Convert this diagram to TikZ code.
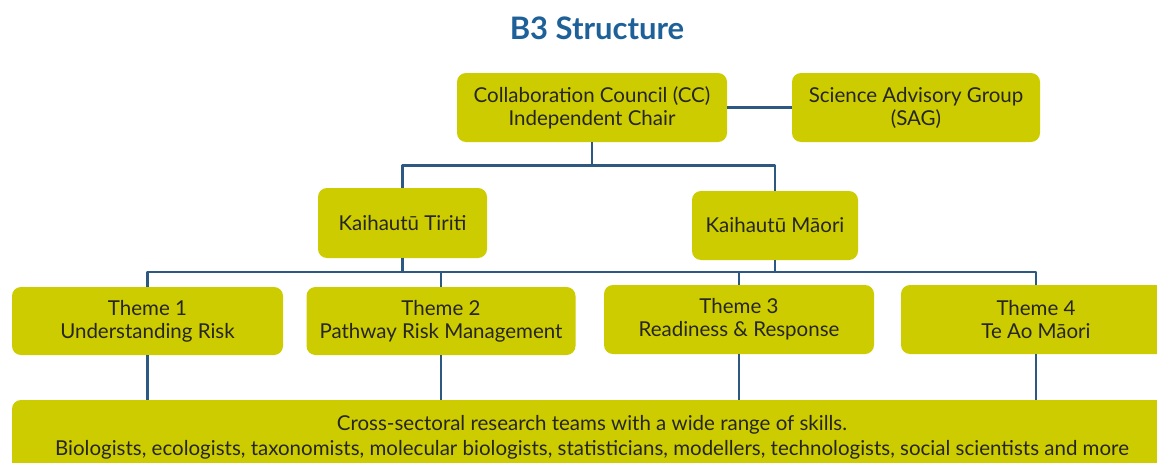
\documentclass[tikz,border=0pt]{standalone}
\usepackage{fontspec}
\setmainfont{Lato}
\definecolor{boxfill}{RGB}{205,204,0}
\definecolor{linkblue}{RGB}{44,88,130}
\definecolor{titleblue}{RGB}{30,96,152}
\definecolor{boxtext}{RGB}{38,38,30}
\begin{document}
\begin{tikzpicture}[x=1pt,y=-1pt,line join=round,
    box/.style={rectangle,rounded corners=9pt,fill=boxfill,text=boxtext,align=center,
      inner sep=0pt,minimum height=69pt,font=\fontsize{20.5}{23}\selectfont},
    link/.style={draw=linkblue,line width=2.6pt}]
  \clip (0,0) rectangle (1157,463);
  \fill[white] (0,0) rectangle (1157,463);
  \node[font=\bfseries\fontsize{31}{34}\selectfont,text=titleblue] (title) at (597,28) {B3 Structure};
  % top row
  \node[box,minimum width=270pt] (cc) at (592,107.5) {Collaboration Council (CC)\\Independent Chair};
  \node[box,minimum width=248pt] (sag) at (916,107.5) {Science Advisory Group\\(SAG)};
  % kaihautu
  \node[box,minimum width=169pt,minimum height=70pt] (tiriti) at (402.5,223) {Kaihautū Tiriti};
  \node[box,minimum width=166pt] (maori) at (775,225.5) {Kaihautū Māori};
  % themes
  \node[box,minimum width=271pt,minimum height=68pt] (t1) at (147.5,321) {Theme 1\\Understanding Risk};
  \node[box,minimum width=269pt,minimum height=68pt] (t2) at (441,321) {Theme 2\\Pathway Risk Management};
  \node[box,minimum width=270pt] (t3) at (739,319.5) {Theme 3\\Readiness \& Response};
  \node[box,minimum width=270pt] (t4) at (1036,319.5) {Theme 4\\Te Ao Māori};
  \node[box,minimum width=1160pt,minimum height=75pt,font=\fontsize{20.5}{25}\selectfont] (team) at (592,437.5)
    {Cross-sectoral research teams with a wide range of skills.\\
     Biologists, ecologists, taxonomists, molecular biologists, statisticians, modellers, technologists, social scientists and more};
  % connectors
  \draw[link] (cc.east) -- (sag.west);
  \draw[link] (cc.south) -- ++(0,23) coordinate (ccbus) -| (tiriti.north);
  \draw[link] (ccbus) -| (maori.north);
  \coordinate (bus) at (0,272);
  \draw[link] (tiriti.south) -- (tiriti.south |- bus);
  \draw[link] (maori.south) -- (maori.south |- bus);
  \draw[link] (t1.north) |- (bus -| t4.north) -- (t4.north);
  \draw[link] (t2.north) -- (t2.north |- bus);
  \draw[link] (t3.north) -- (t3.north |- bus);
  \foreach \t in {t1,t2,t3,t4}
    \draw[link] (\t.south) -- (\t.south |- team.north);
\end{tikzpicture}
\end{document}
